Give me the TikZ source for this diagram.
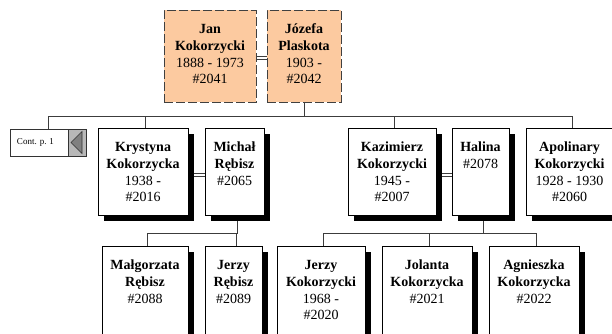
\documentclass[tikz,border=0pt]{standalone}
\usepackage{fontspec}
\setmainfont{Liberation Serif}
\usetikzlibrary{shadows,backgrounds}
\definecolor{peach}{RGB}{252,202,160}
\definecolor{linegray}{RGB}{60,60,60}
\tikzset{
  pbox/.style={draw=black!75, line width=0.9pt, dash pattern=on 9pt off 3pt, fill=peach, inner sep=0pt, outer sep=0pt},
  sbox/.style={draw=black, line width=0.7pt, fill=white, inner sep=0pt, outer sep=0pt,
    drop shadow={fill=black, opacity=1, shadow xshift=5.5pt, shadow yshift=-5.5pt}},
  txt/.style={anchor=north, align=center, inner sep=0pt, font=\fontsize{14}{16.7}\selectfont},
  conn/.style={draw=linegray, line width=0.8pt},
  spouse/.style={draw=linegray, line width=0.7pt, double=white, double distance=2pt},
}
\newcommand{\fl}{\rule{0pt}{10pt}}
\begin{document}
\begin{tikzpicture}[x=1pt,y=-1pt]
\useasboundingbox (0,0) rectangle (612,333);
% top couple
\node[pbox, minimum width=92, minimum height=92] (jan) at (210,56) {};
\node[txt] (janT) at ([yshift=-13.5pt]jan.north) {\fl\textbf{Jan}\\\textbf{Kokorzycki}\\1888 - 1973\\\#2041};
\node[pbox, minimum width=74, minimum height=92] (joz) at (304,56) {};
\node[txt] (jozT) at ([yshift=-13.5pt]joz.north) {\fl\textbf{Józefa}\\\textbf{Plaskota}\\1903 -\\\#2042};
% continuation box
\node[draw=black!80, line width=0.7pt, fill=white, minimum width=76, minimum height=27, inner sep=0pt, outer sep=0pt] (cont) at (48,142.5) {};
\node[draw=black!80, line width=0.7pt, fill=black!28, minimum width=18, minimum height=27, inner sep=0pt, outer sep=0pt] (contArr) at (77,142.5) {};
\node[inner sep=0pt, font=\fontsize{9}{10}\selectfont] (contT) at (35.5,142.5) {Cont. p. 1};
\fill[black!50, draw=black!80, line width=0.6pt] (71,142.5) -- (82,131.5) -- (82,153.5) -- cycle;
% second generation
\node[sbox, minimum width=90, minimum height=87] (krys) at (143,171.5) {};
\node[txt] (krysT) at ([yshift=-13.5pt]krys.north) {\fl\textbf{Krystyna}\\\textbf{Kokorzycka}\\1938 -\\\#2016};
\node[sbox, minimum width=59, minimum height=87] (mich) at (234.5,171.5) {};
\node[txt] (michT) at ([yshift=-13.5pt]mich.north) {\fl\textbf{Michał}\\\textbf{Rębisz}\\\#2065};
\node[sbox, minimum width=88, minimum height=87] (kaz) at (392,171.5) {};
\node[txt] (kazT) at ([yshift=-13.5pt]kaz.north) {\fl\textbf{Kazimierz}\\\textbf{Kokorzycki}\\1945 -\\\#2007};
\node[sbox, minimum width=57, minimum height=87] (hal) at (480.5,171.5) {};
\node[txt] (halT) at ([yshift=-13.5pt]hal.north) {\fl\textbf{Halina}\\\#2078};
\node[sbox, minimum width=87, minimum height=87] (apol) at (569.5,171.5) {};
\node[txt] (apolT) at ([yshift=-13.5pt]apol.north) {\fl\textbf{Apolinary}\\\textbf{Kokorzycki}\\1928 - 1930\\\#2060};
% third generation
\node[sbox, minimum width=86, minimum height=95] (malg) at (145,293.5) {};
\node[txt] (malgT) at ([yshift=-13.5pt]malg.north) {\fl\textbf{Małgorzata}\\\textbf{Rębisz}\\\#2088};
\node[sbox, minimum width=57, minimum height=95] (jerr) at (233.5,293.5) {};
\node[txt] (jerrT) at ([yshift=-13.5pt]jerr.north) {\fl\textbf{Jerzy}\\\textbf{Rębisz}\\\#2089};
\node[sbox, minimum width=88, minimum height=95] (jerk) at (321,293.5) {};
\node[txt] (jerkT) at ([yshift=-13.5pt]jerk.north) {\fl\textbf{Jerzy}\\\textbf{Kokorzycki}\\1968 -\\\#2020};
\node[sbox, minimum width=90, minimum height=95] (jol) at (427,293.5) {};
\node[txt] (jolT) at ([yshift=-13.5pt]jol.north) {\fl\textbf{Jolanta}\\\textbf{Kokorzycka}\\\#2021};
\node[sbox, minimum width=90, minimum height=95] (agn) at (534,293.5) {};
\node[txt] (agnT) at ([yshift=-13.5pt]agn.north) {\fl\textbf{Agnieszka}\\\textbf{Kokorzycka}\\\#2022};
% connectors
\begin{scope}[on background layer]
\draw[spouse] ([yshift=-2pt]jan.east) -- ([yshift=-2pt]joz.west);
\draw[spouse] ([yshift=-3.5pt]krys.east) -- ([yshift=-3.5pt]mich.west);
\draw[spouse] ([yshift=-3.5pt]kaz.east) -- ([yshift=-3.5pt]hal.west);
\draw[conn] (joz.south) -- ++(0,14) -| (cont.north);
\draw[conn] (joz.south) -- ++(0,14) -| ([xshift=2.5pt]krys.north);
\draw[conn] (joz.south) -- ++(0,14) -| ([xshift=2.5pt]kaz.north);
\draw[conn] (joz.south) -- ++(0,14) -| ([xshift=2.5pt]apol.north);
\draw[conn] ([xshift=2.5pt]mich.south) -- ++(0,18) -| ([xshift=2.5pt]malg.north);
\draw[conn] ([xshift=2.5pt]mich.south) -- ++(0,18) -| ([xshift=2.5pt]jerr.north);
\draw[conn] ([xshift=2.5pt]hal.south) -- ++(0,18) -| ([xshift=2.5pt]jerk.north);
\draw[conn] ([xshift=2.5pt]hal.south) -- ++(0,18) -| ([xshift=2.5pt]jol.north);
\draw[conn] ([xshift=2.5pt]hal.south) -- ++(0,18) -| ([xshift=2.5pt]agn.north);
\end{scope}
\end{tikzpicture}
\end{document}
